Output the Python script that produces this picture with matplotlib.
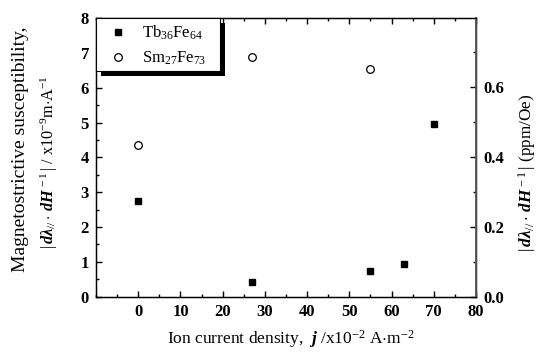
import matplotlib
matplotlib.use("Agg")
import matplotlib.pyplot as plt
from matplotlib.patches import Rectangle
from matplotlib.ticker import MultipleLocator, FixedLocator

plt.rcParams['font.family'] = ['Liberation Serif', 'DejaVu Serif']
plt.rcParams['mathtext.fontset'] = 'custom'
plt.rcParams['mathtext.rm'] = 'Liberation Serif'
plt.rcParams['mathtext.it'] = 'Liberation Serif:italic'
plt.rcParams['mathtext.bf'] = 'Liberation Serif:bold'
plt.rcParams['mathtext.bfit'] = 'Liberation Serif:bold:italic'

# data
tb_x = [0, 27, 55, 63, 70]
tb_y = [2.75, 0.41, 0.74, 0.95, 4.96]
sm_x = [0, 27, 55]
sm_y = [4.35, 6.87, 6.53]
tb_label = r'Tb$_{36}$Fe$_{64}$'
sm_label = r'Sm$_{27}$Fe$_{73}$'
x_ticks = [0, 10, 20, 30, 40, 50, 60, 70, 80]
y_ticks = [0, 1, 2, 3, 4, 5, 6, 7, 8]
y2_ticks = [0.0, 0.2, 0.4, 0.6]

W, H = 548, 352
AX_L, AX_R, AX_T, AX_B = 96, 476, 18, 296.7
fig = plt.figure(figsize=(W / 100, H / 100), dpi=100)
ax = fig.add_axes([AX_L / W, 1 - AX_B / H, (AX_R - AX_L) / W, (AX_B - AX_T) / H])


def axfrac(px, py):
    return ((px - AX_L) / (AX_R - AX_L), (AX_B - py) / (AX_B - AX_T))


ax.plot(tb_x, tb_y, linestyle='none', marker='s', markersize=5,
        color='black', label=tb_label)
ax.plot(sm_x, sm_y, linestyle='none', marker='o', markersize=5.5,
        markerfacecolor='white', markeredgecolor='black', markeredgewidth=0.9,
        label=sm_label)

ax.set_xlim(-10, 80)
ax.set_ylim(0, 8)
ax.xaxis.set_major_locator(FixedLocator(x_ticks))
ax.xaxis.set_minor_locator(MultipleLocator(5))
ax.yaxis.set_major_locator(FixedLocator(y_ticks))
ax.yaxis.set_minor_locator(MultipleLocator(0.5))
ax.tick_params(which='both', direction='in', top=True, right=False,
               width=1.0, labelsize=12, pad=5)
ax.tick_params(which='major', length=4.5)
ax.tick_params(which='minor', length=2.5)
for lab in ax.get_xticklabels() + ax.get_yticklabels():
    lab.set_fontweight('bold')
for s in ax.spines.values():
    s.set_linewidth(1.0)

ax2 = ax.twinx()
ax2.set_ylim(0, 0.7957)
ax2.yaxis.set_major_locator(FixedLocator(y2_ticks))
ax2.yaxis.set_minor_locator(MultipleLocator(0.1))
ax2.set_yticklabels([f'{v:.1f}' for v in y2_ticks], fontweight='bold', fontsize=12)
ax2.tick_params(which='both', direction='in', width=1.0, pad=5)
ax2.tick_params(which='major', length=4.5)
ax2.tick_params(which='minor', length=2.5)
ax2.spines['right'].set_color('#555555')
ax2.spines['right'].set_linewidth(1.3)

fig.text(291 / W, 1 - 339.5 / H,
         r'Ion current density,  $\mathbfit{j}$ /x10$^{-2}$ A$\cdot$m$^{-2}$',
         ha='center', va='center', fontsize=12.5)

fig.text(21 / W, 1 - 149 / H, 'Magnetostrictive susceptibility,', rotation=90,
         ha='center', va='center', fontsize=14)
fig.text(49 / W, 1 - 162 / H,
         r'$|\,\mathbfit{d\lambda}_{\mathit{//}}\cdot\,\mathbfit{dH}^{\,-1}\,|$ / x10$^{-9}$m$\cdot$A$^{-1}$',
         rotation=90, ha='center', va='center', fontsize=11.7)
fig.text(527 / W, 1 - 173 / H,
         r'$|\,\mathbfit{d\lambda}_{\mathit{//}}\cdot\,\mathbfit{dH}^{\,-1}\,|$ (ppm/Oe)',
         rotation=90, ha='center', va='center', fontsize=12.3)

# legend box (frame + offset shadow), drawn in axes fractions
bx0, by0 = axfrac(96, 71)
bx1, by1 = axfrac(220, 18.5)
sx0, sy0 = axfrac(101, 76)
shadow = Rectangle((sx0, sy0), bx1 - bx0, by1 - by0, transform=ax.transAxes,
                   facecolor='black', edgecolor='none', zorder=8, clip_on=False)
frame = Rectangle((bx0, by0), bx1 - bx0, by1 - by0, transform=ax.transAxes,
                  facecolor='white', edgecolor='black', linewidth=0.8,
                  zorder=9, clip_on=False)
ax2.add_patch(shadow)
ax2.add_patch(frame)

h1, l1 = ax.get_legend_handles_labels()
leg = ax2.legend(h1, l1, loc='upper left', bbox_to_anchor=axfrac(108, 24),
                 bbox_transform=ax.transAxes, borderaxespad=0, borderpad=0,
                 frameon=False, fontsize=12, handletextpad=0.84,
                 labelspacing=0.45, handlelength=1.2)
leg.set_zorder(10)

fig.savefig('out.png', dpi=100)
